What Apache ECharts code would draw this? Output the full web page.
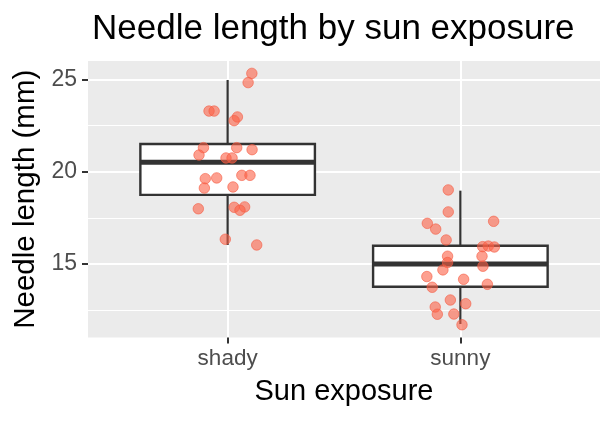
<!DOCTYPE html>
<html>
<head>
<meta charset="utf-8">
<script src="https://cdn.jsdelivr.net/npm/echarts@6/dist/echarts.min.js"></script>
<style>html,body{margin:0;padding:0;background:#fff;}#c{width:614px;height:422px;}</style>
</head>
<body>
<div id="c"></div>
<script>
// ---- data ----
var categories = ['shady', 'sunny'];
var yTicks = [15, 20, 25];
var yMinor = [12.5, 17.5, 22.5];

// jittered points (x in category units, y in mm)
var shadyX = [1.104,1.088,0.920,0.942,1.042,1.028,0.896,1.039,1.105,0.877,0.993,1.019,1.061,1.096,0.904,0.953,0.900,1.023,0.874,1.028,1.073,1.053,0.990,1.125];
var shadyY = [25.32,24.82,23.28,23.28,22.96,22.76,21.30,21.30,21.19,20.90,20.74,20.74,19.80,19.80,19.62,19.66,19.11,19.17,17.99,18.07,18.09,17.91,16.34,16.03];
var sunnyX = [1.948,1.948,1.858,1.894,2.143,1.939,2.096,2.120,2.146,1.945,2.093,1.945,2.097,1.925,1.856,2.014,1.879,2.116,1.957,2.023,1.892,1.901,1.972,2.007];
var sunnyY = [19.01,17.82,17.20,16.89,17.31,16.30,15.94,15.97,15.92,15.42,15.42,15.08,14.88,14.68,14.32,14.17,13.74,13.90,13.05,12.85,12.67,12.28,12.29,11.71];

// box statistics per category
var boxLow    = [16.03, 11.75];
var boxQ1     = [18.74, 13.77];
var boxMedian = [20.51, 15.00];
var boxQ3     = [21.50, 15.99];
var boxHigh   = [24.96, 18.97];

// ---- build ----
var boxData = categories.map(function (c, i) {
  return [i + 1, boxLow[i], boxQ1[i], boxMedian[i], boxQ3[i], boxHigh[i]];
});
var pts = [];
shadyX.forEach(function (x, i) { pts.push([x, shadyY[i]]); });
sunnyX.forEach(function (x, i) { pts.push([x, sunnyY[i]]); });

var FONT = '"Liberation Sans", Arial, Helvetica, sans-serif';
var chart = echarts.init(document.getElementById('c'), null, {renderer: 'canvas'});
var halfW = 0.375;

chart.setOption({
  animation: false,
  backgroundColor: '#ffffff',
  title: {
    text: 'Needle length by sun exposure',
    left: 87, top: 7,
    textStyle: {fontFamily: FONT, fontSize: 35, fontWeight: 'normal', color: '#000000'}
  },
  grid: {
    left: 88, right: 14, top: 61, bottom: 84.5,
    show: true, backgroundColor: '#EBEBEB', borderWidth: 0
  },
  xAxis: {
    type: 'value', min: 0.4, max: 2.6,
    name: 'Sun exposure', nameLocation: 'middle', nameGap: 40,
    nameTextStyle: {fontFamily: FONT, fontSize: 29, color: '#000000'},
    axisLine: {show: false},
    axisTick: {show: true, customValues: [1, 2], length: 6, lineStyle: {color: '#333333', width: 2}},
    axisLabel: {
      customValues: [1, 2], margin: 10, color: '#4D4D4D', fontFamily: FONT, fontSize: 22.5,
      formatter: function (v) { return categories[Math.round(v) - 1] || ''; }
    },
    splitLine: {show: true, lineStyle: {color: '#ffffff', width: 2}}
  },
  yAxis: [{
    type: 'value', min: 11.02, max: 25.99,
    name: 'Needle length (mm)', nameLocation: 'middle', nameGap: 45,
    nameTextStyle: {fontFamily: FONT, fontSize: 29.5, color: '#000000'},
    axisLine: {show: false},
    axisTick: {show: true, customValues: yTicks, length: 6, lineStyle: {color: '#333333', width: 2}},
    axisLabel: {customValues: yTicks, margin: 11, color: '#4D4D4D', fontFamily: FONT, fontSize: 23},
    splitLine: {show: true, lineStyle: {color: '#ffffff', width: 2}}
  }, {
    type: 'value', min: 11.02, max: 25.99, position: 'left',
    axisLine: {show: false},
    axisTick: {show: false, customValues: yMinor},
    axisLabel: {show: false, customValues: yMinor},
    splitLine: {show: true, lineStyle: {color: '#ffffff', width: 1}}
  }],
  series: [{
    type: 'custom',
    data: boxData,
    z: 2,
    renderItem: function (params, api) {
      var x = api.value(0);
      var lo = api.value(1), q1 = api.value(2), md = api.value(3), q3 = api.value(4), hi = api.value(5);
      var pL = api.coord([x - halfW, q3]);
      var pR = api.coord([x + halfW, q1]);
      var cHi = api.coord([x, hi]), cQ3 = api.coord([x, q3]), cQ1 = api.coord([x, q1]), cLo = api.coord([x, lo]);
      var mL = api.coord([x - halfW, md]), mR = api.coord([x + halfW, md]);
      var stroke = {stroke: '#333333', lineWidth: 2.2};
      return {
        type: 'group',
        children: [
          {type: 'line', shape: {x1: cHi[0], y1: cHi[1], x2: cQ3[0], y2: cQ3[1]}, style: stroke},
          {type: 'line', shape: {x1: cQ1[0], y1: cQ1[1], x2: cLo[0], y2: cLo[1]}, style: stroke},
          {type: 'rect', shape: {x: pL[0], y: pL[1], width: pR[0] - pL[0], height: pR[1] - pL[1]},
           style: {fill: '#ffffff', stroke: '#333333', lineWidth: 2.4}},
          {type: 'line', shape: {x1: mL[0], y1: mL[1], x2: mR[0], y2: mR[1]}, style: {stroke: '#333333', lineWidth: 5}}
        ]
      };
    }
  }, {
    type: 'scatter',
    data: pts,
    z: 3,
    symbol: 'circle',
    symbolSize: 10.5,
    itemStyle: {color: 'rgba(252,96,70,0.75)', borderColor: 'rgba(245,90,65,0.75)', borderWidth: 1}
  }]
});
</script>
</body>
</html>
